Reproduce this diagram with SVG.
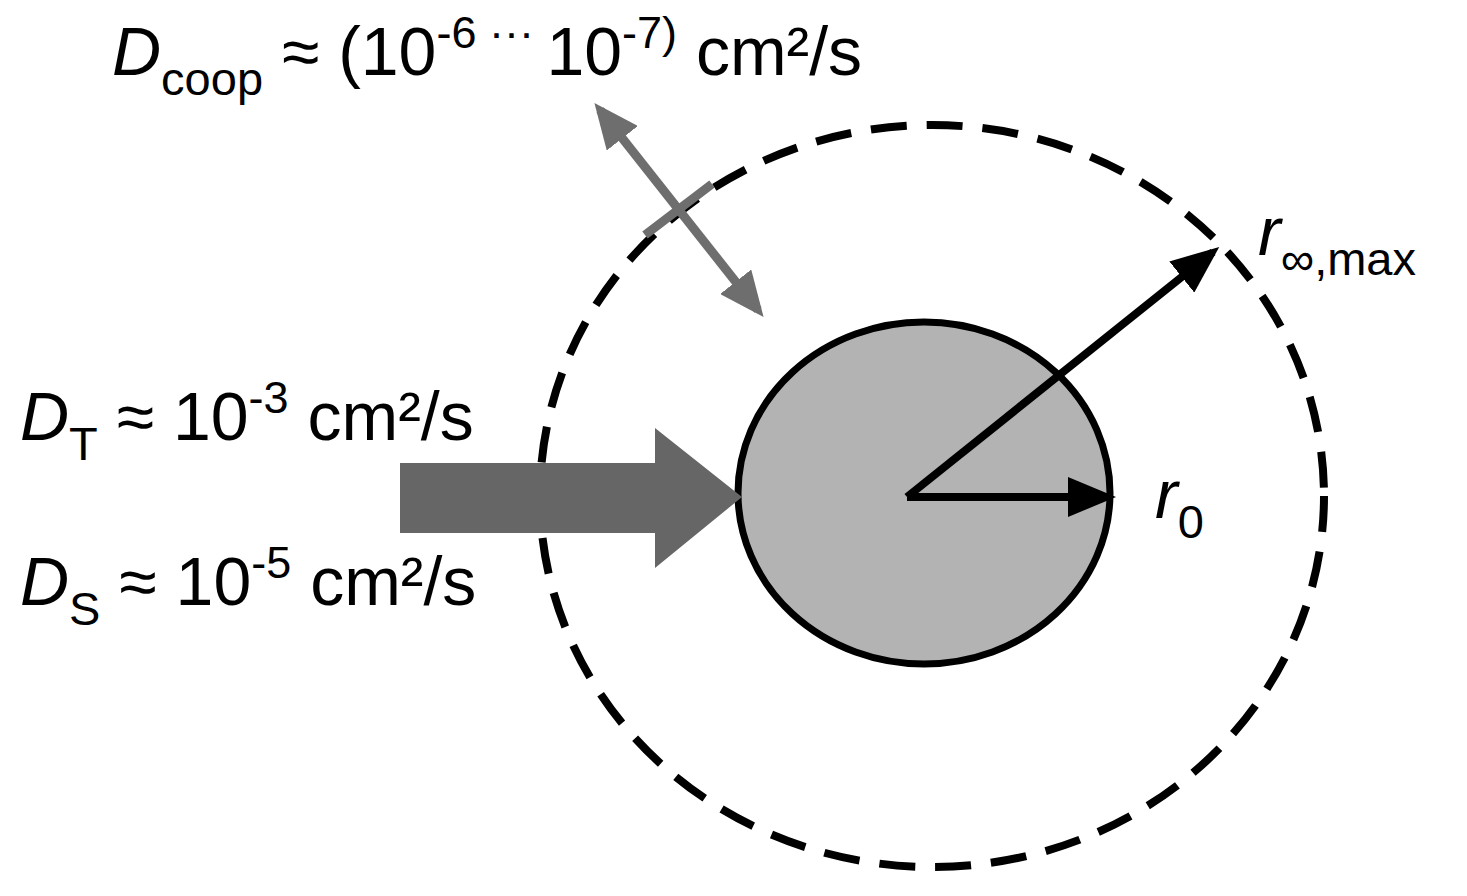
<svg xmlns="http://www.w3.org/2000/svg" width="1467" height="896" viewBox="0 0 1467 896">
<style>
text{font-family:"Liberation Sans",Arial,sans-serif;font-size:68px;fill:#000}
.sub{font-size:47px}
.sup{font-size:45px}
</style>
<defs>
<marker id="ab" markerWidth="6" markerHeight="5" refX="5" refY="2.5" orient="auto" markerUnits="strokeWidth"><path d="M0,0 L6,2.5 L0,5 z" fill="#000"/></marker>
<marker id="ag" markerWidth="5" markerHeight="4.4" refX="4" refY="2.2" orient="auto-start-reverse" markerUnits="strokeWidth"><path d="M0,0 L5,2.2 L0,4.4 z" fill="#6e6e6e"/></marker>
</defs>
<rect width="1467" height="896" fill="#fff"/>
<g id="outer"><ellipse cx="932" cy="496" rx="392" ry="371" fill="none" stroke="#000" stroke-width="8" stroke-dasharray="36,20"/></g>
<g id="particle"><ellipse cx="924" cy="493" rx="186" ry="171" fill="#b3b3b3" stroke="#000" stroke-width="7"/></g>
<g id="connectors">
<path d="M400,463 H655 V428 L742,497 L655,568 V533 H400 Z" fill="#666"/>
<line x1="907" y1="497" x2="1108" y2="497" stroke="#000" stroke-width="8" marker-end="url(#ab)"/>
<line x1="907" y1="497" x2="1213" y2="252" stroke="#000" stroke-width="8" marker-end="url(#ab)"/>
<line x1="600" y1="110" x2="758" y2="310" stroke="#6e6e6e" stroke-width="9" marker-start="url(#ag)" marker-end="url(#ag)"/>
<line x1="645" y1="235" x2="712" y2="184" stroke="#6e6e6e" stroke-width="9"/>
</g>
<g id="labels">
<text x="112" y="75"><tspan font-style="italic">D</tspan><tspan class="sub" dy="20">coop</tspan><tspan dy="-20"> ≈ (10</tspan><tspan class="sup" dy="-27">-6</tspan><tspan class="sup"> ··· </tspan><tspan dy="27">10</tspan><tspan class="sup" dy="-27">-7)</tspan><tspan dy="27"> cm²/s</tspan></text>
<text x="20" y="440"><tspan font-style="italic">D</tspan><tspan class="sub" dy="20">T</tspan><tspan dy="-20"> ≈ 10</tspan><tspan class="sup" dy="-27">-3</tspan><tspan dy="27"> cm²/s</tspan></text>
<text x="20" y="605"><tspan font-style="italic">D</tspan><tspan class="sub" dy="20">S</tspan><tspan dy="-20"> ≈ 10</tspan><tspan class="sup" dy="-27">-5</tspan><tspan dy="27"> cm²/s</tspan></text>
<text x="1155" y="518"><tspan font-style="italic">r</tspan><tspan class="sub" dy="20">0</tspan></text>
<text x="1258" y="255"><tspan font-style="italic">r</tspan><tspan class="sub" dy="20">∞,max</tspan></text>
</g>
</svg>
